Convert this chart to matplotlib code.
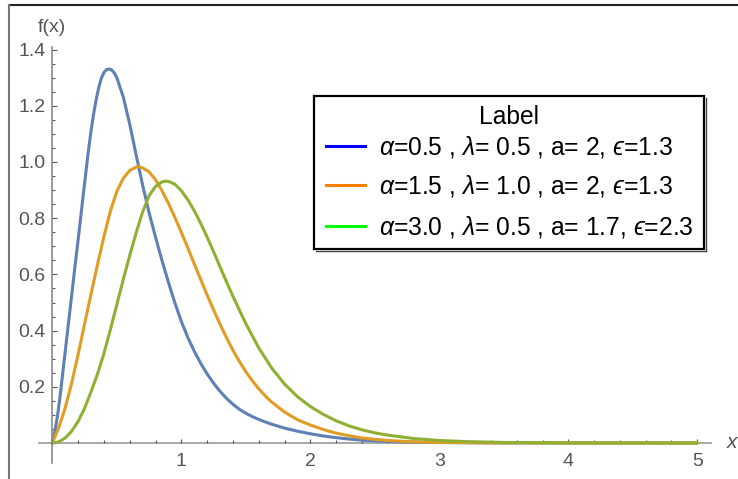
import matplotlib
matplotlib.use('Agg')
import matplotlib.pyplot as plt
from matplotlib.lines import Line2D
from matplotlib.patches import Rectangle

plt.rcParams['font.family'] = ['Liberation Sans', 'DejaVu Sans']
plt.rcParams['mathtext.fontset'] = 'custom'
plt.rcParams['mathtext.rm'] = 'Liberation Sans'
plt.rcParams['mathtext.it'] = 'Liberation Sans:italic'
plt.rcParams['mathtext.fallback'] = 'stixsans'

# ---- data ----
blue_x = [0.00, 0.02, 0.04, 0.06, 0.08, 0.10, 0.12, 0.14, 0.16, 0.18, 0.20, 0.22, 0.24, 0.26,
          0.28, 0.30, 0.32, 0.34, 0.36, 0.38, 0.40, 0.42, 0.44, 0.46, 0.48, 0.50,
          0.55, 0.60, 0.65, 0.70, 0.75, 0.80, 0.85, 0.90, 0.95, 1.00, 1.05, 1.10, 1.15, 1.20,
          1.25, 1.30, 1.35, 1.40, 1.45, 1.50, 1.55, 1.60, 1.65, 1.70,
          1.80, 1.90, 2.00, 2.10, 2.20, 2.30, 2.40,
          2.60, 2.80, 3.00, 3.50, 4.00, 5.00]
blue_y = [0.0, 0.042, 0.095, 0.165, 0.245, 0.325, 0.405, 0.485, 0.565, 0.645, 0.722, 0.803, 0.883, 0.962,
          1.040, 1.110, 1.170, 1.222, 1.265, 1.298, 1.318, 1.329, 1.331, 1.328, 1.317, 1.300,
          1.232, 1.135, 1.025, 0.918, 0.820, 0.733, 0.650, 0.572, 0.499, 0.433, 0.376, 0.327, 0.284, 0.246,
          0.213, 0.184, 0.159, 0.138, 0.120, 0.106, 0.094, 0.084, 0.075, 0.067,
          0.053, 0.042, 0.033, 0.025, 0.019, 0.014, 0.010,
          0.0055, 0.003, 0.0015, 0.0003, 0.0, 0.0]

orange_x = [0.00, 0.05, 0.10, 0.15, 0.20, 0.25, 0.30, 0.35, 0.40, 0.45, 0.50, 0.55, 0.60, 0.65,
            0.675,
            0.70, 0.75, 0.80, 0.85, 0.90, 0.95, 1.00, 1.05, 1.10, 1.15, 1.20, 1.25, 1.30, 1.35,
            1.40, 1.45, 1.50, 1.55, 1.60, 1.65, 1.70,
            1.80, 1.90, 2.00, 2.10, 2.20, 2.30, 2.40, 2.50, 2.60,
            2.80, 3.00, 3.30, 4.00, 5.00]
orange_y = [0.0, 0.055, 0.125, 0.213, 0.315, 0.423, 0.530, 0.634, 0.734, 0.825, 0.895, 0.942, 0.970, 0.982,
            0.983,
            0.979, 0.965, 0.937, 0.898, 0.853, 0.803, 0.750, 0.695, 0.638, 0.582, 0.527, 0.474, 0.423, 0.375,
            0.330, 0.290, 0.254, 0.222, 0.193, 0.168, 0.146,
            0.110, 0.083, 0.064, 0.048, 0.035, 0.026, 0.018, 0.013, 0.009,
            0.004, 0.002, 0.0007, 0.0001, 0.0]

green_x = [0.00, 0.05, 0.10, 0.15, 0.20, 0.25, 0.30, 0.35, 0.40, 0.45, 0.50, 0.55, 0.60, 0.65,
           0.70, 0.75, 0.80, 0.85, 0.88,
           0.90, 0.95, 1.00, 1.05, 1.10, 1.15, 1.20, 1.25, 1.30, 1.35, 1.40,
           1.50, 1.60, 1.70, 1.80, 1.90, 2.00, 2.10, 2.20, 2.30, 2.40, 2.50, 2.60,
           2.80, 3.00, 3.20, 3.50, 4.00, 5.00]
green_y = [0.0, 0.004, 0.018, 0.042, 0.077, 0.123, 0.182, 0.245, 0.318, 0.403, 0.492, 0.582, 0.667, 0.748,
           0.822, 0.880, 0.913, 0.929, 0.932,
           0.931, 0.921, 0.898, 0.866, 0.827, 0.782, 0.733, 0.681, 0.627, 0.574, 0.522,
           0.425, 0.339, 0.267, 0.210, 0.165, 0.130, 0.102, 0.079, 0.061, 0.047, 0.036, 0.028,
           0.016, 0.009, 0.005, 0.002, 0.0005, 0.0]

legend_labels = ['$\u03b1$=0.5 , $\u03bb$= 0.5 , a= 2, $\u03f5$=1.3',
                 '$\u03b1$=1.5 , $\u03bb$= 1.0 , a= 2, $\u03f5$=1.3',
                 '$\u03b1$=3.0 , $\u03bb$= 0.5 , a= 1.7, $\u03f5$=2.3']
legend_title = 'Label'
x_major = [1, 2, 3, 4, 5]
y_major = [0.2, 0.4, 0.6, 0.8, 1.0, 1.2, 1.4]

curve_colors = ['#5E81B5', '#E19C24', '#8FB032']
legend_colors = ['#0000FF', '#FF8000', '#00FF00']

W, H = 738, 479
fig = plt.figure(figsize=(W / 100, H / 100), dpi=100)

x0_px, x1_px = 39, 711
y_top_px, y_bot_px = 47, 463
ox_px, oy_px = 52.3, 443.0
ppx, ppy = 129.0, 281.0

ax = fig.add_axes([x0_px / W, 1 - y_bot_px / H, (x1_px - x0_px) / W, (y_bot_px - y_top_px) / H])
ax.set_xlim((x0_px - ox_px) / ppx, (x1_px - ox_px) / ppx)
ax.set_ylim((oy_px - y_bot_px) / ppy, (oy_px - y_top_px) / ppy)
ax.patch.set_alpha(0)

for xs, ys, c in [(blue_x, blue_y, curve_colors[0]),
                  (orange_x, orange_y, curve_colors[1]),
                  (green_x, green_y, curve_colors[2])]:
    ax.plot(xs, ys, color=c, lw=2.2, solid_capstyle='round', solid_joinstyle='round', clip_on=False)

for s in ['top', 'right']:
    ax.spines[s].set_visible(False)
ax.spines['left'].set_position(('data', 0))
ax.spines['bottom'].set_position(('data', 0))
ax.spines['left'].set_color('#808080')
ax.spines['bottom'].set_color('#a8a8a8')
ax.spines['left'].set_linewidth(1.1)
ax.spines['bottom'].set_linewidth(1.4)
ax.spines['bottom'].set_zorder(0.5)

ax.set_xticks(x_major)
ax.set_xticklabels([str(v) for v in x_major])
ax.set_xticks([v / 5 for v in range(1, 25) if v % 5 != 0], minor=True)
ax.set_yticks(y_major)
ax.set_yticklabels(['%.1f' % v for v in y_major])
ax.set_yticks([v / 20 for v in range(1, 29) if v % 4 != 0], minor=True)

ax.tick_params(axis='both', which='both', direction='in', color='#555555', width=0.8,
               labelcolor='#555555', labelsize=14)
ax.tick_params(axis='x', which='major', length=3.2, pad=7)
ax.tick_params(axis='x', which='minor', length=2.0)
ax.tick_params(axis='y', which='major', length=3.6, pad=5)
ax.tick_params(axis='y', which='minor', length=2.2)

fig.text(51.5 / W, 1 - 28 / H, 'f(x)', ha='center', va='center', fontsize=14, color='#555555')
fig.text(732 / W, 1 - 443 / H, 'x', ha='center', va='center', fontsize=15, color='#555555',
         style='italic')

# ---- legend drawn in figure pixel coordinates ----
def fx(px):
    return px / W

def fy(py):
    return 1 - py / H

lg_left, lg_right, lg_top, lg_bot = 314, 704, 96, 249
fig.add_artist(Rectangle((fx(lg_left), fy(lg_bot)), fx(lg_right) - fx(lg_left), fy(lg_top) - fy(lg_bot),
                         transform=fig.transFigure, facecolor='white', edgecolor='black', lw=1.6,
                         zorder=5))
fig.add_artist(Line2D([fx(lg_right + 1.5)] * 2, [fy(lg_bot + 1.5), fy(lg_top + 1.5)],
                      transform=fig.transFigure, color='#444444', lw=1.0, zorder=5))
fig.add_artist(Line2D([fx(lg_left + 1.5), fx(lg_right + 1.5)], [fy(lg_bot + 1.5)] * 2,
                      transform=fig.transFigure, color='#444444', lw=1.0, zorder=5))
fig.text(fx(509), fy(124), legend_title, ha='center', va='baseline', fontsize=17.7,
         color='black', zorder=6)
row_centers = [146, 185, 226]
for yc, c, lab in zip(row_centers, legend_colors, legend_labels):
    fig.add_artist(Line2D([fx(326), fx(365)], [fy(yc)] * 2, transform=fig.transFigure,
                          color=c, lw=2.2, zorder=6))
    fig.text(fx(379), fy(yc + 8.8), lab, ha='left', va='baseline', fontsize=17.7,
             color='black', zorder=6)

fig.add_artist(Line2D([9 / W, 1], [1 - 5 / H, 1 - 5 / H], transform=fig.transFigure,
                      color='#222222', lw=1.5))
fig.add_artist(Line2D([9 / W, 9 / W], [0, 1 - 5 / H], transform=fig.transFigure,
                      color='#777777', lw=1.5))

fig.savefig('out.png', dpi=100)
